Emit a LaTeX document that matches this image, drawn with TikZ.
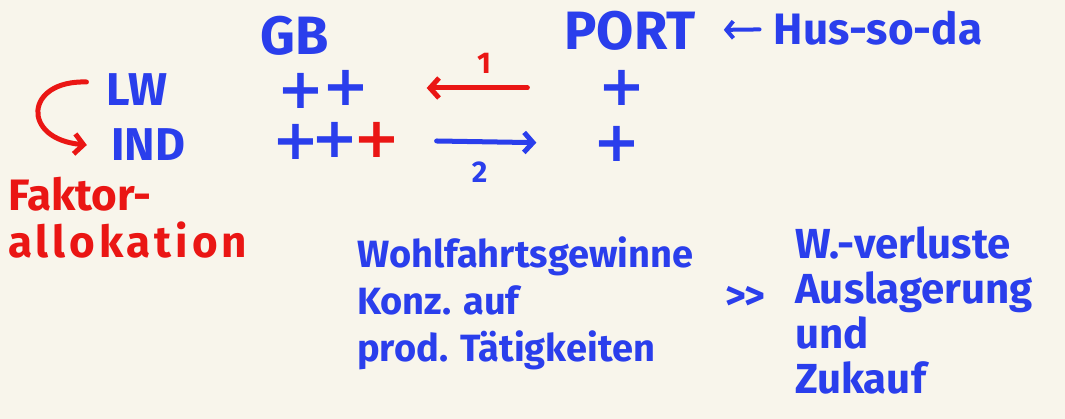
\documentclass[tikz,border=0pt]{standalone}
\usepackage{fontspec}
\setmainfont{Fira Sans}
\newfontfamily\plusfont{DejaVu Sans}
\usepackage{xcolor}
\usetikzlibrary{calc,positioning,arrows.meta}
\definecolor{pen}{RGB}{42,62,236}
\definecolor{mark}{RGB}{234,22,20}
\definecolor{paper}{RGB}{248,245,235}
\begin{document}
\begin{tikzpicture}[x=1pt, y=-1pt,
  node distance=4pt,
  ink/.style={text=pen, inner sep=0pt, font=\fontsize{46}{50}\selectfont\bfseries},
  redink/.style={ink, text=mark},
  plus/.style={ink, font=\plusfont\fontsize{56}{56}\selectfont\bfseries},
  note/.style={ink, align=left, font=\fontsize{38}{47}\selectfont\bfseries},
  pencil/.style={line width=5pt, line cap=round, line join=round,
                 -{Straight Barb[length=9pt, width=20pt, line width=5pt]}}]
\fill[paper] (0,0) rectangle (1065,419);
\useasboundingbox (0,0) rectangle (1065,419);
% country heads
\node[ink, font=\fontsize{54}{56}\selectfont\bfseries] (gb) at (295,36) {GB};
\node[ink, font=\fontsize{54}{56}\selectfont\bfseries] (port) at (630,31) {PORT};
\node[ink, font=\fontsize{44}{50}\selectfont\bfseries] (hus) at (878,28) {Hus-so-da};
\draw[pencil, draw=pen, line width=4pt, shorten <=14pt, shorten >=28pt,
      -{Straight Barb[length=7pt, width=17pt, line width=4pt]}] (hus) -- (port);
% sectors
\node[ink] (lw) at (137,90) {LW};
\node[ink] (ind) at (148,145) {IND};
\node[plus] (gblwa) at (301,91) {+};
\node[plus] (gblwb) at (346,88) {+};
\node[plus] (gbinda) at (296,142) {+};
\node[plus] (gbindb) at (335,140) {+};
\node[plus, text=mark] (extra) at (377,140) {+};
\node[plus] (portlw) at (622,88) {+};
\node[plus] (portind) at (617,144) {+};
% trade arrows
\draw[pencil, draw=mark, shorten <=71pt, shorten >=57pt] (portlw) -- (gblwb)
  node[midway, above=12pt, redink, font=\fontsize{30}{30}\selectfont\bfseries] (one) {1};
\draw[pencil, draw=pen, shorten <=36pt, shorten >=57pt] (extra) -- (portind)
  node[pos=0.41, below=18pt, ink, font=\fontsize{30}{30}\selectfont\bfseries] (two) {2};
\draw[pencil, draw=mark] ($(lw.west)+(-20,-8)$) .. controls +(-62,-2) and +(-66,-6) .. ($(ind.west)+(-24,0)$);
% notes
\node[redink, align=left, anchor=north west, font=\fontsize{44}{47}\selectfont\bfseries] (faktor) at (8,177)
  {Faktor-\\{\addfontfeature{LetterSpace=9}allokation}};
\node[note, anchor=north west] (gain) at (357,236) {Wohlfahrtsgewinne\\Konz. auf\\prod. Tätigkeiten};
\node[note, anchor=north west, font=\fontsize{42}{45}\selectfont\bfseries] (loss) at (795,226)
  {W.-verluste\\Auslagerung\\und\\Zukauf};
\node[ink, font=\fontsize{40}{40}\selectfont\bfseries, anchor=west] (gg) at (725,298) {>\kern-1pt>};
\end{tikzpicture}
\end{document}
